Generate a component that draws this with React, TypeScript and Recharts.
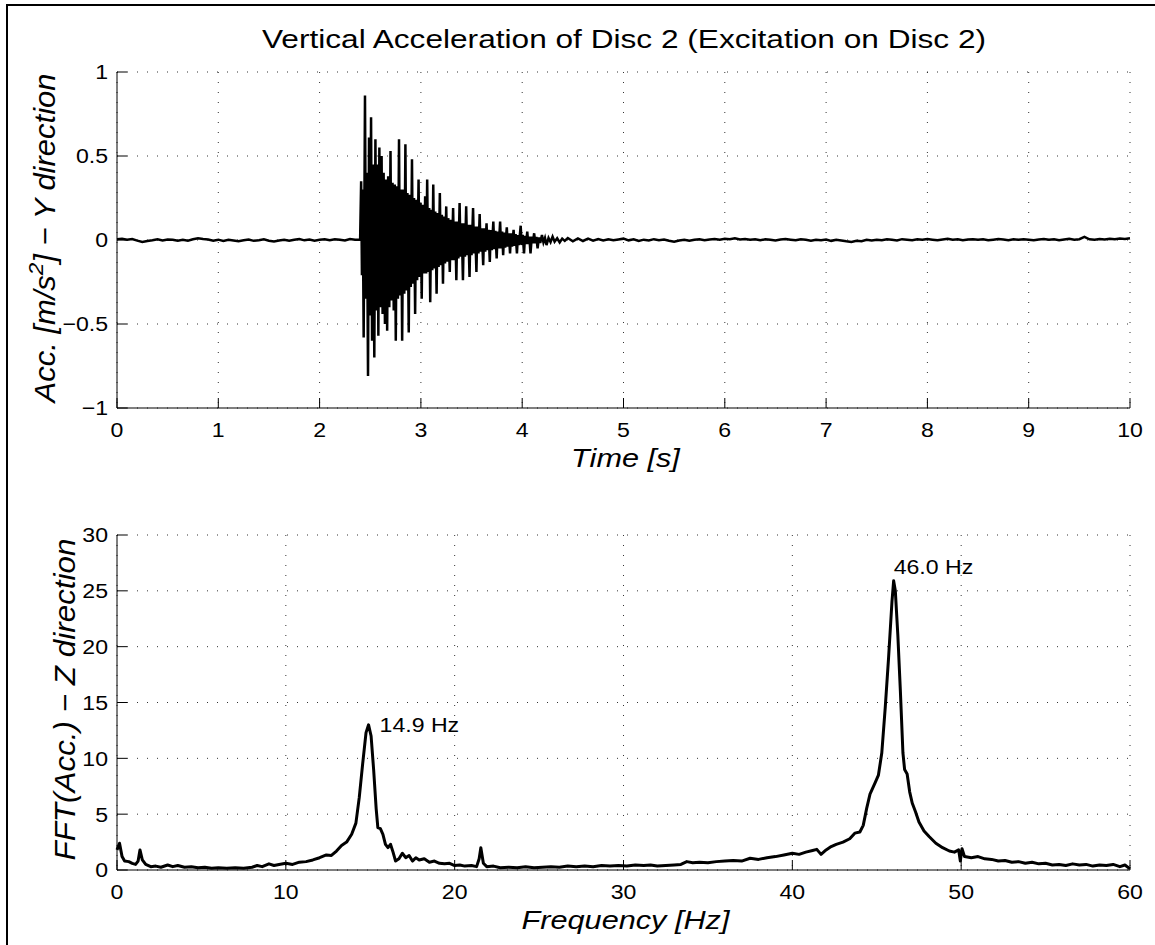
import { CartesianGrid, Line, LineChart, ReferenceDot, XAxis, YAxis } from "recharts";

const FONT = '"Liberation Sans", Arial, Helvetica, sans-serif';
const TICK_FONT = 21;
const LABEL_FONT = 26;
const YLABEL_FONT = 29;
const TICK_SX = 1.1; // the original text runs a little wider than Arial
const LABEL_SX = 1.18;

// axis ticks
const TIME_TICKS = [0, 1, 2, 3, 4, 5, 6, 7, 8, 9, 10];
const ACC_TICKS = [-1, -0.5, 0, 0.5, 1];
const FREQ_TICKS = [0, 10, 20, 30, 40, 50, 60];
const FFT_TICKS = [0, 5, 10, 15, 20, 25, 30];

// acceleration before the hit, sampled every STEP seconds from 0 s
const STEP = 0.05;
const accPre = [
  0.005, 0.008, 0.002, 0.006, -0.004, -0.012, -0.006, -0.002, 0.004, -0.003,
  0.003, 0.002, -0.005, 0.001, -0.004, 0.004, 0.01, 0.006, 0.003, -0.004,
  0.002, -0.006, 0.001, -0.003, -0.008, -0.002, 0.003, -0.005, -0.001, 0.004,
  -0.004, -0.009, -0.003, 0.002, -0.005, 0.001, 0.006, -0.002, 0.003, -0.004,
  0.002, 0.005, -0.001, 0.004, 0.001, -0.003, 0.006, 0.002,
];

// decaying response after excitation [time s, acc]
const accBurst: [number, number][] = [
  [2.4, 0.003], [2.41, 0.35], [2.418, -0.21], [2.425, 0.3], [2.435, -0.58],
  [2.448, 0.86], [2.458, -0.35], [2.466, 0.4], [2.478, -0.81], [2.488, 0.61],
  [2.497, -0.45], [2.508, 0.73], [2.518, -0.6], [2.527, 0.45], [2.54, -0.7],
  [2.551, 0.6], [2.561, -0.42], [2.57, 0.45], [2.58, -0.57], [2.59, 0.55],
  [2.6, -0.4], [2.612, 0.5], [2.622, -0.44], [2.632, 0.4], [2.645, -0.5],
  [2.655, 0.36], [2.667, -0.54], [2.677, 0.38], [2.688, -0.4], [2.7, 0.53],
  [2.71, -0.36], [2.72, 0.34], [2.732, -0.42], [2.742, 0.33], [2.752, -0.6],
  [2.763, 0.32], [2.773, -0.35], [2.784, 0.6], [2.794, -0.33], [2.804, 0.3],
  [2.815, -0.6], [2.826, 0.3], [2.836, -0.32], [2.847, 0.57], [2.857, -0.3],
  [2.867, 0.28], [2.88, -0.55], [2.89, 0.27], [2.9, -0.28], [2.912, 0.48],
  [2.922, -0.26], [2.932, 0.25], [2.943, -0.44], [2.953, 0.24], [2.963, -0.24],
  [2.977, 0.36], [2.987, -0.22], [2.997, 0.22], [3.008, -0.35], [3.018, 0.21],
  [3.03, -0.2], [3.042, 0.26], [3.052, -0.2], [3.062, 0.36], [3.072, -0.19],
  [3.082, 0.19], [3.092, -0.37], [3.102, 0.18], [3.112, -0.18], [3.122, 0.33],
  [3.132, -0.17], [3.142, 0.17], [3.155, -0.32], [3.165, 0.16], [3.175, -0.16],
  [3.187, 0.28], [3.197, -0.15], [3.207, 0.15], [3.218, -0.26], [3.228, 0.14],
  [3.238, -0.14], [3.25, 0.2], [3.26, -0.13], [3.27, 0.13], [3.285, -0.19],
  [3.295, 0.12], [3.305, -0.12], [3.318, 0.19], [3.328, -0.12], [3.338, 0.11],
  [3.35, -0.24], [3.36, 0.11], [3.37, -0.11], [3.382, 0.22], [3.392, -0.1],
  [3.402, 0.1], [3.415, -0.24], [3.425, 0.1], [3.435, -0.1], [3.447, 0.2],
  [3.457, -0.09], [3.467, 0.09], [3.48, -0.22], [3.49, 0.09], [3.5, -0.09],
  [3.515, 0.19], [3.525, -0.08], [3.535, 0.08], [3.548, -0.19], [3.558, 0.08],
  [3.568, -0.08], [3.58, 0.155], [3.59, -0.07], [3.6, 0.07], [3.615, -0.15],
  [3.625, 0.07], [3.635, -0.07], [3.648, 0.1], [3.658, -0.06], [3.668, 0.06],
  [3.68, -0.13], [3.69, 0.06], [3.7, -0.06], [3.715, 0.11], [3.725, -0.055],
  [3.735, 0.055], [3.748, -0.11], [3.758, 0.05], [3.768, -0.05], [3.782, 0.11],
  [3.792, -0.05], [3.802, 0.05], [3.812, -0.09], [3.822, 0.045], [3.832, -0.045],
  [3.848, 0.075], [3.858, -0.04], [3.868, 0.04], [3.88, -0.08], [3.89, 0.04],
  [3.9, -0.04], [3.915, 0.06], [3.925, -0.035], [3.935, 0.035], [3.948, -0.08],
  [3.958, 0.03], [3.968, -0.03], [3.985, 0.085], [3.995, -0.03], [4.005, 0.03],
  [4.018, -0.08], [4.028, 0.025], [4.038, -0.025], [4.05, 0.05], [4.06, -0.025],
  [4.07, 0.02], [4.082, -0.08], [4.095, 0.02], [4.105, -0.02], [4.118, 0.04],
  [4.13, -0.02], [4.14, 0.018], [4.152, -0.05], [4.165, 0.015], [4.178, -0.018],
  [4.195, 0.03], [4.21, -0.015], [4.225, 0.012], [4.24, -0.03], [4.26, 0.012],
  [4.28, -0.012], [4.3, 0.02], [4.32, -0.01], [4.345, 0.01], [4.37, -0.015],
  [4.395, 0.008], [4.42, -0.005],
];

// acceleration after the response, sampled every STEP seconds from POST_START
const POST_START = 4.45;
const accPost = [
  0.012, -0.008, 0.01, -0.006, 0.008, -0.004, 0.006, -0.003, 0.004, -0.002,
  0.003, 0.008, -0.002, 0.004, -0.006, 0.002, -0.003, 0.005, -0.001, 0.003,
  -0.004, -0.01, -0.003, 0.002, -0.005, 0.001, 0.004, -0.002, 0.003, 0.006,
  0.002, 0.008, 0.004, 0.01, 0.003, 0.006, 0.001, 0.005, -0.002, 0.004,
  0.001, -0.003, 0.003, 0.006, 0.002, -0.002, 0.004, 0.001, -0.004, 0.002,
  -0.001, 0.003, -0.005, 0.002, -0.003, -0.008, -0.012, -0.004, -0.007, 0.001,
  -0.003, 0.002, -0.002, 0.004, 0.001, -0.003, 0.005, 0.002, -0.001, 0.004,
  0.001, 0.006, 0.002, -0.002, 0.003, 0.007, 0.001, 0.004, -0.001, 0.003,
  0.005, 0.001, 0.004, -0.002, 0.002, 0.006, 0.003, -0.001, 0.004, 0.001,
  0.005, 0.002, -0.001, 0.003, 0.006, 0.002, 0.004, -0.002, 0.003, 0.007,
  0.002, 0.005, 0.018, 0.004, 0.001, 0.006, 0.003, 0.008, 0.004, 0.009,
  0.006, 0.01,
];

// spectrum [Hz, |FFT|]
const fftSpectrum: [number, number][] = [
  [0, 1.8], [0.15, 2.4], [0.3, 1.2], [0.45, 0.8], [0.7, 0.75], [0.9, 0.6],
  [1.1, 0.5], [1.25, 0.8], [1.36, 1.8], [1.5, 0.9], [1.7, 0.5], [2.0, 0.3],
  [2.3, 0.35], [2.6, 0.25], [3.0, 0.45], [3.3, 0.3], [3.6, 0.4], [4.0, 0.25],
  [4.4, 0.3], [4.8, 0.2], [5.2, 0.25], [5.6, 0.15], [6.0, 0.2], [6.5, 0.15],
  [7.0, 0.2], [7.5, 0.15], [8.0, 0.25], [8.3, 0.4], [8.6, 0.3], [9.0, 0.55],
  [9.3, 0.4], [9.6, 0.5], [10.0, 0.6], [10.4, 0.5], [10.8, 0.7], [11.2, 0.75],
  [11.6, 0.9], [12.0, 1.1], [12.4, 1.35], [12.7, 1.3], [13.0, 1.7], [13.3, 2.2],
  [13.6, 2.5], [13.9, 3.2], [14.15, 4.2], [14.35, 6.5], [14.55, 9.5],
  [14.75, 12.3], [14.9, 13.0], [15.05, 12.0], [15.2, 9.0], [15.35, 5.5],
  [15.45, 3.8], [15.6, 3.7], [15.75, 3.2], [15.9, 2.3], [16.05, 2.0],
  [16.2, 2.3], [16.35, 1.6], [16.5, 0.8], [16.7, 1.0], [16.9, 1.5], [17.1, 1.1],
  [17.3, 1.3], [17.5, 0.8], [17.7, 1.1], [17.9, 0.9], [18.2, 1.0], [18.5, 0.7],
  [18.8, 0.8], [19.1, 0.6], [19.4, 0.55], [19.7, 0.6], [20.0, 0.4], [20.3, 0.45],
  [20.6, 0.35], [21.0, 0.4], [21.3, 0.3], [21.45, 1.0], [21.55, 2.0],
  [21.7, 0.6], [21.9, 0.3], [22.3, 0.35], [22.7, 0.2], [23.2, 0.25], [23.7, 0.2],
  [24.2, 0.3], [24.7, 0.2], [25.2, 0.25], [25.7, 0.3], [26.2, 0.25], [26.7, 0.35],
  [27.2, 0.3], [27.7, 0.35], [28.2, 0.3], [28.7, 0.4], [29.2, 0.35], [29.7, 0.4],
  [30.2, 0.35], [30.7, 0.45], [31.2, 0.4], [31.6, 0.45], [32.0, 0.35], [32.5, 0.4],
  [33.0, 0.45], [33.4, 0.5], [33.75, 0.75], [34.1, 0.65], [34.5, 0.7], [35.0, 0.65],
  [35.5, 0.75], [36.0, 0.8], [36.5, 0.85], [37.0, 0.8], [37.5, 1.05], [38.0, 0.95],
  [38.5, 1.1], [39.0, 1.2], [39.5, 1.35], [40.0, 1.5], [40.4, 1.4], [40.8, 1.6],
  [41.2, 1.75], [41.45, 1.85], [41.7, 1.4], [42.0, 1.8], [42.3, 2.1], [42.6, 2.3],
  [43.0, 2.5], [43.4, 2.8], [43.7, 3.3], [44.0, 3.4], [44.2, 4.0], [44.4, 5.5],
  [44.6, 6.8], [44.9, 7.8], [45.1, 8.5], [45.3, 10.5], [45.5, 14.5], [45.7, 19.0],
  [45.9, 24.0], [46.0, 25.9], [46.1, 25.0], [46.25, 21.0], [46.4, 16.0],
  [46.55, 10.5], [46.65, 9.0], [46.8, 8.6], [46.95, 7.0], [47.1, 6.0], [47.3, 5.2],
  [47.5, 4.3], [47.8, 3.5], [48.1, 3.0], [48.5, 2.4], [48.9, 2.0], [49.3, 1.7],
  [49.6, 1.6], [49.85, 1.8], [49.95, 0.8], [50.05, 1.9], [50.2, 1.2], [50.6, 1.1],
  [51.0, 1.2], [51.4, 1.0], [51.8, 0.95], [52.2, 0.8], [52.6, 0.85], [53.0, 0.7],
  [53.4, 0.75], [53.8, 0.6], [54.2, 0.7], [54.6, 0.55], [55.0, 0.6], [55.4, 0.45],
  [55.8, 0.5], [56.2, 0.4], [56.6, 0.55], [57.0, 0.45], [57.4, 0.5], [57.8, 0.35],
  [58.2, 0.45], [58.6, 0.4], [59.0, 0.5], [59.4, 0.3], [59.7, 0.45], [60.0, 0.1],
];

// marked resonance peaks [Hz, |FFT|, text]
const peaks: [number, number, string][] = [
  [14.9, 13.0, "14.9 Hz"],
  [46.0, 25.9, "46.0 Hz"],
];

const timeData = [
  ...accPre.map((a, i) => ({ t: i * STEP, a })),
  ...accBurst.map(([t, a]) => ({ t, a })),
  ...accPost.map((a, i) => ({ t: POST_START + i * STEP, a })),
];
const fftData = fftSpectrum.map(([f, m]) => ({ f, m }));

const fmt = (v: number) => (v < 0 ? "\u2212" + Math.abs(v) : String(v));

const lineStyle = { stroke: "#000", strokeWidth: 1 };

const makeTick = (anchor: "middle" | "end") => (p: any) => (
  <g transform={`translate(${p.x},${p.y}) scale(${TICK_SX},1)`}>
    <text x={0} y={0} dy={anchor === "middle" ? "0.71em" : "0.355em"} textAnchor={anchor} fontSize={TICK_FONT} fontFamily={FONT} fill="#000">
      {fmt(p.payload.value)}
    </text>
  </g>
);

const xLabel = (text: string) => (props: any) => {
  const { x, y, width } = props.viewBox;
  return (
    <g transform={`translate(${x + width / 2 + 2},${y + 59}) scale(${LABEL_SX},1)`}>
      <text x={0} y={0} textAnchor="middle" fontSize={LABEL_FONT} fontStyle="italic" fontFamily={FONT} fill="#000">
        {text}
      </text>
    </g>
  );
};

// rotated y label; cx is the baseline position, len the drawn length
const yLabel = (parts: React.ReactNode, cx: number, len: number, shift: number) => (props: any) => {
  const { y, height } = props.viewBox;
  const cy = y + height / 2 + shift;
  return (
    <text
      x={cx}
      y={cy}
      transform={`rotate(-90, ${cx}, ${cy})`}
      textAnchor="middle"
      textLength={len}
      lengthAdjust="spacingAndGlyphs"
      fontSize={YLABEL_FONT}
      fontStyle="italic"
      fontFamily={FONT}
      fill="#000"
    >
      {parts}
    </text>
  );
};

function Frame({ xTicks, yTicks, xDomain, yDomain, xKey, xText, xH, yText }: any) {
  return [
    <CartesianGrid key="g" stroke="#000" strokeOpacity={0.8} strokeDasharray="1 9" />,
    <XAxis
      key="x"
      dataKey={xKey}
      type="number"
      domain={xDomain}
      ticks={xTicks}
      interval={0}
      height={xH}
      tickSize={-10}
      tickMargin={24}
      tick={makeTick("middle")}
      axisLine={lineStyle}
      tickLine={lineStyle}
      label={xLabel(xText)}
    />,
    <XAxis key="xt" xAxisId="top" orientation="top" type="number" domain={xDomain} ticks={xTicks} interval={0} height={0} tickSize={-10} tick={false} axisLine={lineStyle} tickLine={lineStyle} />,
    <YAxis
      key="y"
      type="number"
      domain={yDomain}
      ticks={yTicks}
      interval={0}
      width={117}
      tickSize={-10}
      tickMargin={19}
      tick={makeTick("end")}
      axisLine={lineStyle}
      tickLine={lineStyle}
      label={yText}
    />,
    <YAxis key="yr" yAxisId="right" orientation="right" type="number" domain={yDomain} ticks={yTicks} interval={0} width={0} tickSize={-10} tick={false} axisLine={lineStyle} tickLine={lineStyle} />,
  ];
}

export default function App() {
  return (
    <div style={{ position: "absolute", left: 0, top: 0, width: 1155, height: 945, background: "#fff", overflow: "hidden" }}>
      <div style={{ position: "absolute", left: 6, top: 4, width: 1200, height: 1000, border: "2px solid #000" }} />
      <svg width={1155} height={60} style={{ position: "absolute", left: 0, top: 0 }}>
        <text x={624} y={48} textAnchor="middle" textLength={724} lengthAdjust="spacingAndGlyphs" fontSize={LABEL_FONT} fontFamily={FONT} fill="#000">
          Vertical Acceleration of Disc 2 (Excitation on Disc 2)
        </text>
      </svg>
      <div style={{ position: "absolute", left: 0, top: 0 }}>
        <LineChart width={1155} height={480} data={timeData} margin={{ top: 72, right: 25, bottom: 0, left: 0 }}>
          {Frame({
            xTicks: TIME_TICKS,
            yTicks: ACC_TICKS,
            xDomain: [0, 10],
            yDomain: [-1, 1],
            xKey: "t",
            xText: "Time [s]",
            xH: 72,
            yText: yLabel(
              <>
                Acc. [m/s
                <tspan dy={-12} fontSize={21}>2</tspan>
                <tspan dy={12}>] {"\u2212"} Y direction</tspan>
              </>,
              55,
              329,
              -2,
            ),
          })}
          <Line type="linear" dataKey="a" stroke="#000" strokeWidth={2.5} dot={false} isAnimationActive={false} />
        </LineChart>
      </div>
      <div style={{ position: "absolute", left: 0, top: 480 }}>
        <LineChart width={1155} height={465} data={fftData} margin={{ top: 55, right: 25, bottom: 0, left: 0 }}>
          {Frame({
            xTicks: FREQ_TICKS,
            yTicks: FFT_TICKS,
            xDomain: [0, 60],
            yDomain: [0, 30],
            xKey: "f",
            xText: "Frequency [Hz]",
            xH: 75,
            yText: yLabel(<>FFT(Acc.) {"\u2212"} Z direction</>, 75, 322, -3),
          })}
          <Line type="linear" dataKey="m" stroke="#000" strokeWidth={3} strokeLinejoin="round" dot={false} isAnimationActive={false} />
          {peaks.map(([f, m, text], i) => (
            <ReferenceDot
              key={text}
              x={f}
              y={m}
              r={1}
              fill="none"
              stroke="none"
              label={(p: any) => {
                const { x, y } = p.viewBox;
                const tx = i === 0 ? x + 12 : x + 1;
                const ty = i === 0 ? y + 1 : y - 13;
                return (
                  <g transform={`translate(${tx},${ty}) scale(${TICK_SX},1)`}>
                    <text x={0} y={0} dominantBaseline="central" fontSize={TICK_FONT} fontFamily={FONT} fill="#000">
                      {text}
                    </text>
                  </g>
                );
              }}
            />
          ))}
        </LineChart>
      </div>
    </div>
  );
}
